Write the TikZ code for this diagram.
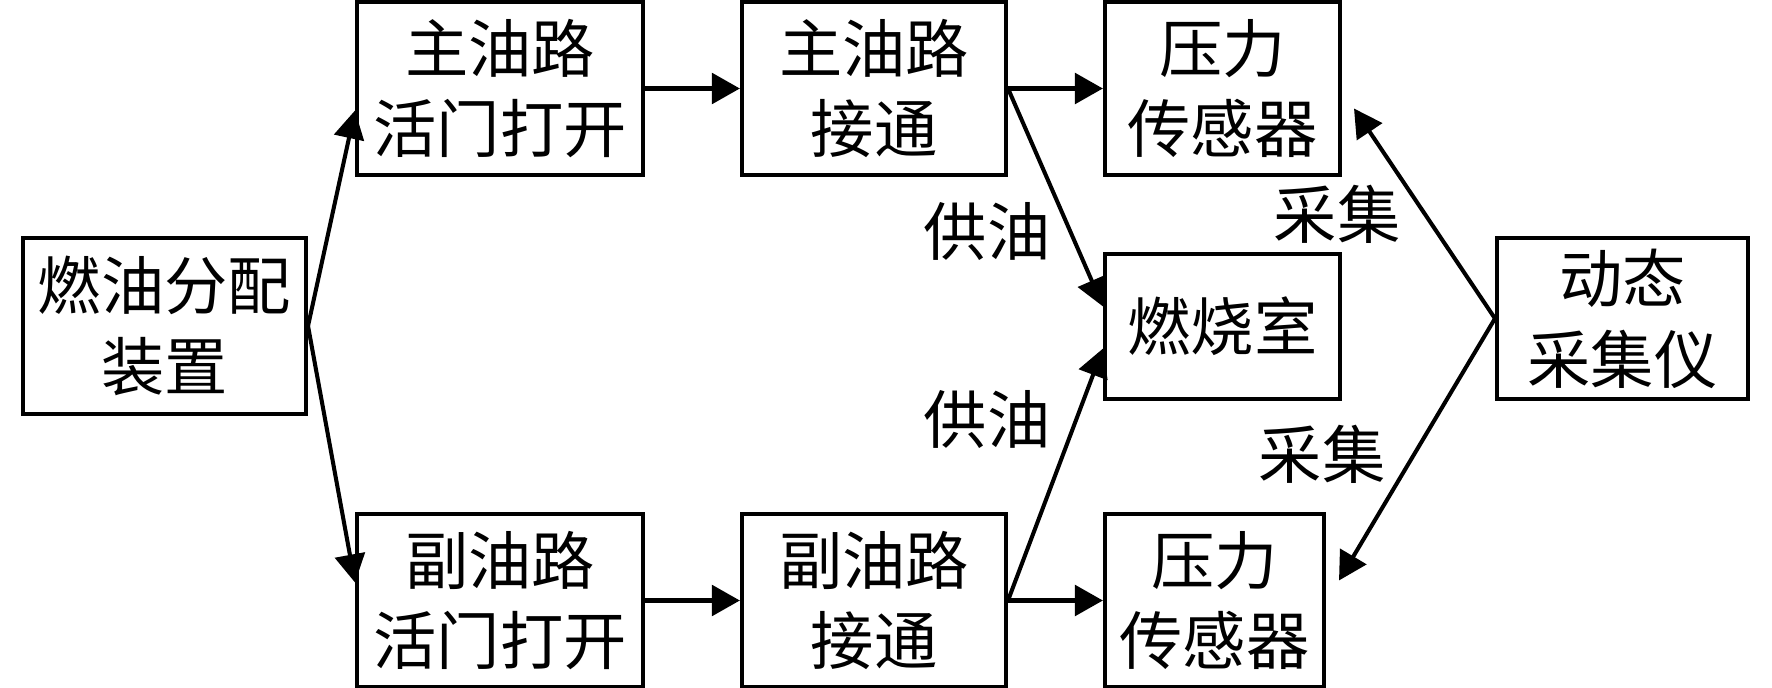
\documentclass[tikz,border=0pt]{standalone}
\usepackage{fontspec}
\newfontfamily\cjk{Noto Sans CJK SC}
\usetikzlibrary{arrows.meta}

\begin{document}
\begin{tikzpicture}[x=0.01cm,y=-0.01cm,
    blk/.style={draw,line width=1.1pt,align=center,inner sep=0pt,font=\cjk\fontsize{18}{23}\selectfont},
    lbl/.style={font=\cjk\fontsize{18}{23}\selectfont,inner sep=0pt},
    flow/.style={-{Triangle[length=0.28cm,width=0.3cm]},line width=1.5pt},
    feed/.style={-{Triangle[length=0.28cm,width=0.3cm]},line width=1.15pt}]
  \useasboundingbox (0,0) rectangle (1772,688);
  % blocks
  \node[blk,minimum width=2.83cm,minimum height=1.76cm] (dist) at (164.5,326) {燃油分配\\装置};
  \node[blk,minimum width=2.86cm,minimum height=1.73cm] (mvalve) at (500,88.5) {主油路\\活门打开};
  \node[blk,minimum width=2.64cm,minimum height=1.73cm] (mline) at (874,88.5) {主油路\\接通};
  \node[blk,minimum width=2.35cm,minimum height=1.73cm] (msens) at (1222.5,88.5) {压力\\传感器};
  \node[blk,minimum width=2.35cm,minimum height=1.45cm] (comb) at (1222.5,326.5) {燃烧室};
  \node[blk,minimum width=2.51cm,minimum height=1.61cm] (daq) at (1622.5,318.5) {动态\\采集仪};
  \node[blk,minimum width=2.86cm,minimum height=1.73cm] (svalve) at (500,600.5) {副油路\\活门打开};
  \node[blk,minimum width=2.64cm,minimum height=1.73cm] (sline) at (874,600.5) {副油路\\接通};
  \node[blk,minimum width=2.19cm,minimum height=1.73cm] (ssens) at (1214.5,600.5) {压力\\传感器};
  % labels
  \node[lbl] (feedup) at (987,232) {供油};
  \node[lbl] (feeddn) at (987,420) {供油};
  \node[lbl] (acqup) at (1337,214) {采集};
  \node[lbl] (acqdn) at (1322,454) {采集};
  % connectors
  \draw[feed] (dist.east) -- ([yshift=-0.22cm]mvalve.west);
  \draw[feed] (dist.east) -- ([yshift=0.18cm]svalve.west);
  \draw[flow] (mvalve) -- (mline);
  \draw[flow] (mline) -- (msens);
  \draw[flow] (svalve) -- (sline);
  \draw[flow] (sline) -- (ssens);
  \draw[feed] (mline.east) -- ([yshift=0.2cm]comb.west);
  \draw[feed] (sline.east) -- ([yshift=-0.22cm]comb.west);
  \draw[feed] (daq.west) -- ([xshift=0.12cm,yshift=-0.2cm]msens.east);
  \draw[feed] (daq.west) -- ([xshift=0.13cm,yshift=0.2cm]ssens.east);
\end{tikzpicture}
\end{document}
